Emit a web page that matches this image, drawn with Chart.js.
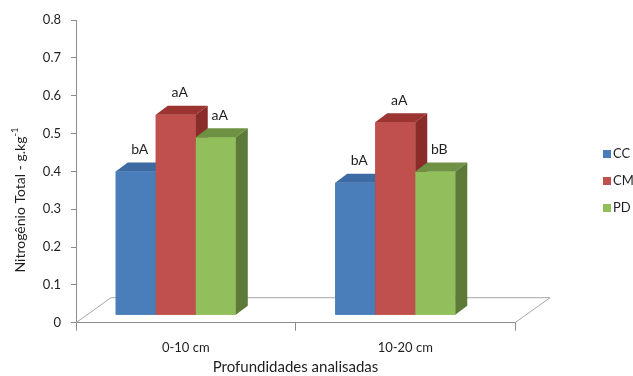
<!DOCTYPE html>
<html>
<head>
<meta charset="utf-8">
<script src="https://cdn.jsdelivr.net/npm/chart.js@4.4.1/dist/chart.umd.min.js"></script>
<style>
  html, body { margin: 0; padding: 0; background: #ffffff; }
  #wrap { width: 633px; height: 376px; }
</style>
</head>
<body>
<div id="wrap"><canvas id="c" width="633" height="376"></canvas></div>
<script>
// Depth categories and treatments
const categories = ['0-10 cm', '10-20 cm'];
const seriesNames = ['CC', 'CM', 'PD'];

// Total nitrogen (g.kg-1) per treatment
const ccValues = [0.38, 0.35];
const cmValues = [0.53, 0.51];
const pdValues = [0.47, 0.38];

// Significance letters shown above each column
const ccLetters = ['bA', 'bA'];
const cmLetters = ['aA', 'aA'];
const pdLetters = ['aA', 'bB'];

// Value axis tick labels
const yTickLabels = ['0', '0.1', '0.2', '0.3', '0.4', '0.5', '0.6', '0.7', '0.8'];

const FONT = 'Lato, "Open Sans", sans-serif';
const TEXT = '#1f1f1f';
const AXIS = '#8c8c8c';

// Faces of each prism: front, top, side
const palette = {
  CC: { front: '#4a7ebb', top: '#3d6aa2', side: '#335a8c' },
  CM: { front: '#c0504d', top: '#9c3532', side: '#8a2c2a' },
  PD: { front: '#92bf5c', top: '#6f9143', side: '#5d7a38' }
};

// 3D projection constants
const FLOOR_DX = 35, FLOOR_DY = -25;   // depth of the floor plane
const SHIFT_X = -10, SHIFT_Y = -7.5;   // column row sits inside the floor
const BAR_DX = 12, BAR_DY = -9;        // depth of each column

const lettersBySeries = [ccLetters, cmLetters, pdLetters];

const floorPlugin = {
  id: 'floor3d',
  beforeDatasetsDraw(chart) {
    const { ctx, chartArea: a } = chart;
    ctx.save();
    ctx.strokeStyle = '#a6a6a6';
    ctx.lineWidth = 1;
    ctx.beginPath();
    ctx.moveTo(a.left, a.bottom);
    ctx.lineTo(a.left + FLOOR_DX, a.bottom + FLOOR_DY);
    ctx.lineTo(a.right + FLOOR_DX, a.bottom + FLOOR_DY);
    ctx.lineTo(a.right, a.bottom);
    ctx.stroke();
    ctx.restore();
    // columns are drawn one depth step into the floor
    ctx.save();
    ctx.translate(SHIFT_X, SHIFT_Y);
  }
};

const prismPlugin = {
  id: 'prism3d',
  afterDatasetsDraw(chart) {
    const ctx = chart.ctx;
    // paint columns left to right so each front hides its neighbour's side
    const items = [];
    chart.data.datasets.forEach((ds, i) => {
      chart.getDatasetMeta(i).data.forEach((el, j) => items.push({ el, i, j, col: palette[ds.label] }));
    });
    items.sort((a, b) => a.el.x - b.el.x);
    items.forEach(({ el, col }) => {
      el.draw(ctx);
      const { x, y, base, width } = el.getProps(['x', 'y', 'base', 'width'], true);
      const l = x - width / 2, r = x + width / 2;
      ctx.fillStyle = col.top;
      ctx.beginPath();
      ctx.moveTo(l, y);
      ctx.lineTo(r, y);
      ctx.lineTo(r + BAR_DX, y + BAR_DY);
      ctx.lineTo(l + BAR_DX, y + BAR_DY);
      ctx.closePath();
      ctx.fill();
      ctx.fillStyle = col.side;
      ctx.beginPath();
      ctx.moveTo(r, y);
      ctx.lineTo(r + BAR_DX, y + BAR_DY);
      ctx.lineTo(r + BAR_DX, base + BAR_DY);
      ctx.lineTo(r, base);
      ctx.closePath();
      ctx.fill();
    });

    ctx.font = '14px ' + FONT;
    ctx.fillStyle = TEXT;
    ctx.textAlign = 'center';
    ctx.textBaseline = 'middle';
    items.forEach(({ el, i, j }) => {
      ctx.fillText(lettersBySeries[i][j], el.x + BAR_DX / 2 - 2, el.y - 22);
    });
    ctx.restore();

    // y-axis title with superscript exponent
    ctx.save();
    ctx.translate(20, 200);
    ctx.rotate(-Math.PI / 2);
    ctx.fillStyle = TEXT;
    ctx.textBaseline = 'middle';
    const main = 'Nitrogênio Total - g.kg';
    ctx.font = '14px ' + FONT;
    const wMain = ctx.measureText(main).width;
    ctx.font = '9.5px ' + FONT;
    const wSup = ctx.measureText('-1').width;
    const start = -(wMain + wSup) / 2;
    ctx.font = '14px ' + FONT;
    ctx.textAlign = 'left';
    ctx.fillText(main, start, 0);
    ctx.font = '9.5px ' + FONT;
    ctx.fillText('-1', start + wMain, -5);
    ctx.restore();

    // legend
    ctx.save();
    ctx.font = '13px ' + FONT;
    ctx.textBaseline = 'middle';
    ctx.textAlign = 'left';
    chart.data.datasets.forEach((ds, i) => {
      const cy = 154 + i * 27;
      ctx.fillStyle = ds.backgroundColor;
      ctx.fillRect(603, cy - 4, 8, 8);
      ctx.fillStyle = TEXT;
      ctx.fillText(ds.label, 613, cy);
    });
    ctx.restore();
  }
};

const valueSets = [ccValues, cmValues, pdValues];
const datasets = seriesNames.map((name, i) => ({
  label: name,
  data: valueSets[i],
  backgroundColor: palette[name].front,
  borderWidth: 0,
  categoryPercentage: 0.547,
  barPercentage: 1.0
}));

new Chart(document.getElementById('c'), {
  type: 'bar',
  data: { labels: categories, datasets },
  options: {
    responsive: false,
    animation: false,
    layout: { padding: { top: 20, right: 118, bottom: 0, left: 0 } },
    plugins: {
      legend: { display: false },
      tooltip: { enabled: false }
    },
    scales: {
      x: {
        grid: { display: true, drawOnChartArea: false, drawTicks: true, tickLength: 8, color: AXIS, offset: true },
        border: { display: true, color: AXIS },
        ticks: { color: TEXT, font: { family: FONT, size: 13 }, padding: 9, maxRotation: 0 },
        title: { display: true, text: 'Profundidades analisadas', color: TEXT, font: { family: FONT, size: 15 }, padding: { top: 0, bottom: 0 } },
        afterFit(scale) { scale.height = 53.3; }
      },
      y: {
        min: 0,
        max: 0.8,
        grid: { display: true, drawOnChartArea: false, drawTicks: true, tickLength: 5, color: AXIS },
        border: { display: true, color: AXIS },
        ticks: {
          stepSize: 0.1,
          color: TEXT,
          font: { family: FONT, size: 13 },
          padding: 10,
          callback: (v, idx) => yTickLabels[idx]
        },
        afterFit(scale) { scale.width = 76; }
      }
    }
  },
  plugins: [floorPlugin, prismPlugin]
});
</script>
</body>
</html>
